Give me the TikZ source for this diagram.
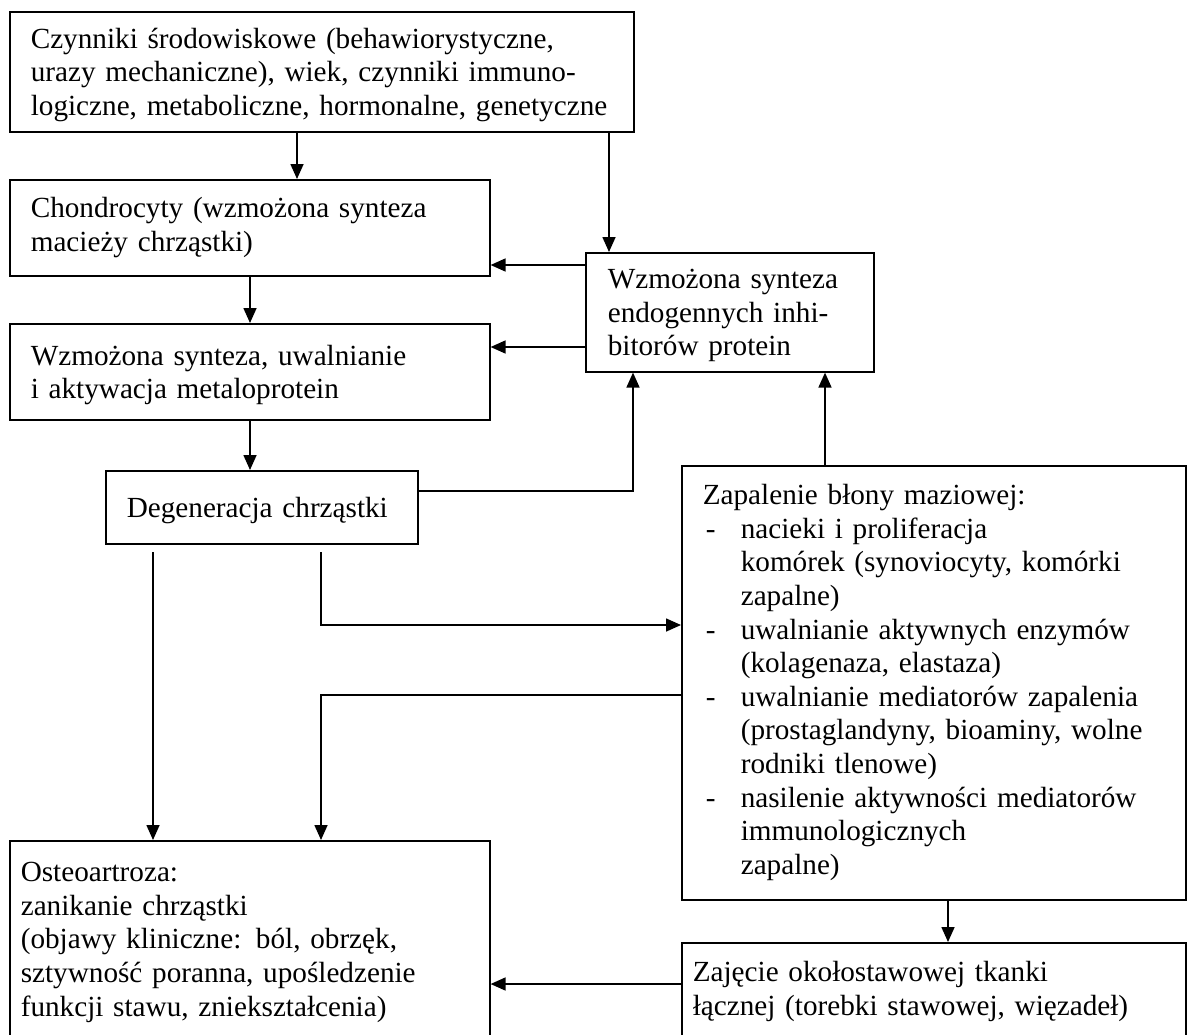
\documentclass[tikz,border=0pt]{standalone}
\usepackage{fontspec}
\setmainfont{Liberation Serif}
\usetikzlibrary{arrows.meta}
\newcommand{\topst}{\rule{0pt}{27pt}}
\newcommand{\botst}{\rule[-7pt]{0pt}{7pt}}
\begin{document}
\begin{tikzpicture}[x=1pt,y=-1pt,
  box/.style={draw, line width=1.6pt, anchor=north west, align=left, inner ysep=0pt,
    font=\fontsize{29.2}{33.6}\selectfont},
  arr/.style={line width=1.6pt, -{Triangle[length=15pt,width=13pt]}}]
\useasboundingbox (0,0) rectangle (1188,1034);
\clip (0,0) rectangle (1188,1034);
\fill[white] (0,0) rectangle (1188,1034);

% boxes
\node[box, minimum width=624pt, minimum height=120pt, inner xsep=21pt, text width=582pt] (b1) at (9,11)
  {\topst Czynniki środowiskowe (behawiorystyczne,\\urazy mechaniczne), wiek, czynniki immuno-\\logiczne, metaboliczne, hormonalne, genetyczne\botst};
\node[box, minimum width=480pt, minimum height=96pt, inner xsep=21pt, text width=438pt] (b2) at (9,179)
  {\strut Chondrocyty (wzmożona synteza\\macieży chrząstki)\strut};
\node[box, minimum width=480pt, minimum height=96pt, inner xsep=21pt, text width=438pt] (b3) at (9,323)
  {\topst Wzmożona synteza, uwalnianie\\i aktywacja metaloprotein\botst};
\node[box, minimum width=312pt, minimum height=73pt, inner xsep=21pt, text width=270pt] (b4) at (105,470)
  {\topst Degeneracja chrząstki\botst};
\node[box, minimum width=288pt, minimum height=119pt, inner xsep=22pt, text width=244pt] (b5) at (585,252)
  {\topst Wzmożona synteza\\endogennych inhi-\\bitorów protein\botst};
\node[box, minimum width=504pt, minimum height=434pt, inner xsep=21pt, text width=462pt] (b6) at (681,465)
  {\strut Zapalenie błony maziowej:\\
   \makebox[38pt][l]{\hspace{3pt}-}nacieki i proliferacja\\
   \hspace*{38pt}komórek (synoviocyty, komórki\\
   \hspace*{38pt}zapalne)\\
   \makebox[38pt][l]{\hspace{3pt}-}uwalnianie aktywnych enzymów\\
   \hspace*{38pt}(kolagenaza, elastaza)\\
   \makebox[38pt][l]{\hspace{3pt}-}uwalnianie mediatorów zapalenia\\
   \hspace*{38pt}(prostaglandyny, bioaminy, wolne\\
   \hspace*{38pt}rodniki tlenowe)\\
   \makebox[38pt][l]{\hspace{3pt}-}nasilenie aktywności mediatorów\\
   \hspace*{38pt}immunologicznych\\
   \hspace*{38pt}zapalne)\strut};
\node[box, minimum width=480pt, minimum height=196pt, inner xsep=11pt, text width=458pt] (b7) at (9,840)
  {\topst Osteoartroza:\\zanikanie chrząstki\\(objawy kliniczne: ból, obrzęk,\\sztywność poranna, upośledzenie\\funkcji stawu, zniekształcenia)\botst};
\node[box, minimum width=504pt, minimum height=98pt, inner xsep=11pt, text width=482pt] (b8) at (681,942)
  {\strut Zajęcie okołostawowej tkanki\\łącznej (torebki stawowej, więzadeł)\strut};

% helper coordinates
\coordinate (xa) at (297,0);
\coordinate (xb) at (609,0);
\coordinate (xc) at (250,0);
\coordinate (xd) at (633,0);
\coordinate (xe) at (825,0);
\coordinate (xf) at (948,0);
\coordinate (ya) at (0,265);
\coordinate (yb) at (0,347);
\coordinate (yc) at (0,491);
\coordinate (yd) at (0,625);
\coordinate (ye) at (0,695);
\coordinate (yf) at (0,984);
\coordinate (s1) at (153,552);
\coordinate (s2) at (321,552);

% connectors
\draw[arr] (xa |- b1.south) -- (xa |- b2.north);
\draw[arr] (xb |- b1.south) -- (xb |- b5.north);
\draw[arr] (ya -| b5.west) -- (ya -| b2.east);
\draw[arr] (yb -| b5.west) -- (yb -| b3.east);
\draw[arr] (xc |- b2.south) -- (xc |- b3.north);
\draw[arr] (xc |- b3.south) -- (xc |- b4.north);
\draw[arr] (yc -| b4.east) -| (xd |- b5.south);
\draw[arr] (xe |- b6.north) -- (xe |- b5.south);
\draw[arr] (s1) -- (s1 |- b7.north);
\draw[arr] (s2) |- (yd -| b6.west);
\draw[arr] (ye -| b6.west) -| (s2 |- b7.north);
\draw[arr] (xf |- b6.south) -- (xf |- b8.north);
\draw[arr] (yf -| b8.west) -- (yf -| b7.east);
\end{tikzpicture}
\end{document}
